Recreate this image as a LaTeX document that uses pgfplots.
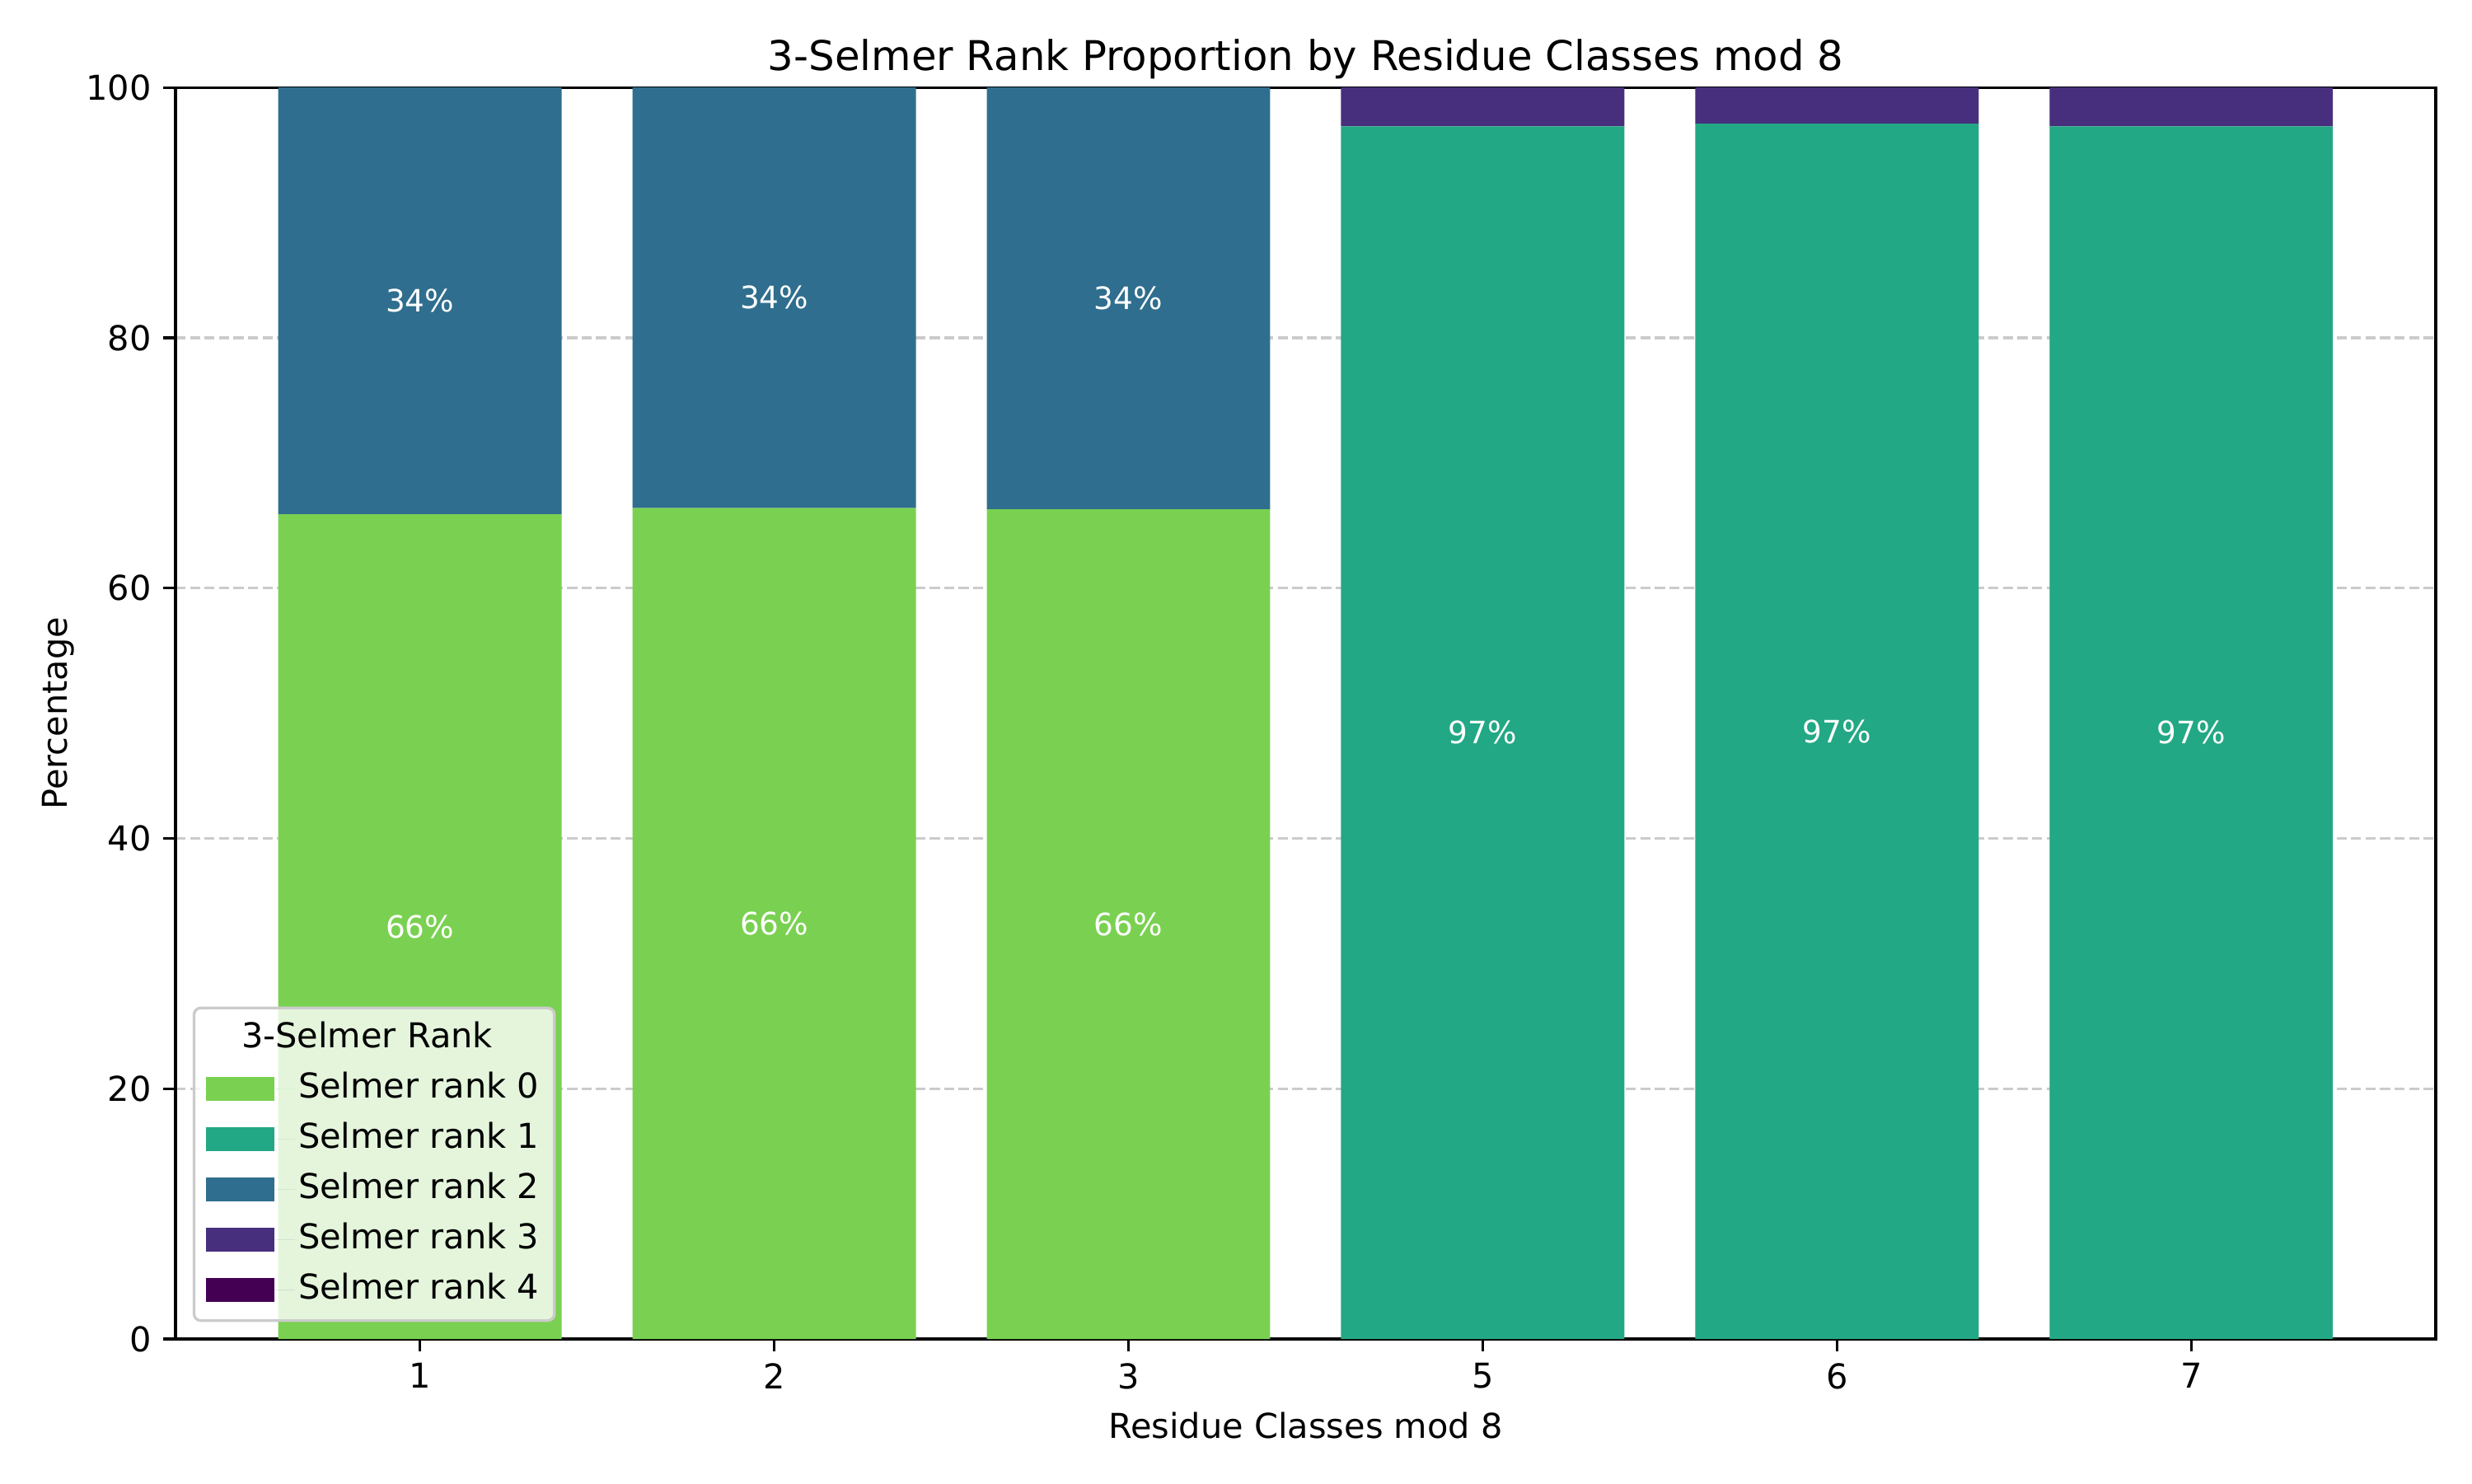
\documentclass[border=0pt]{standalone}
\usepackage{fontspec}
\setmainfont{DejaVu Sans}
\usepackage{pgfplots}
\pgfplotsset{compat=1.18}

\definecolor{rzero}{HTML}{7AD151}
\definecolor{rone}{HTML}{22A884}
\definecolor{rtwo}{HTML}{2F6E8E}
\definecolor{rthree}{HTML}{472F7D}
\definecolor{rfour}{HTML}{440154}
\definecolor{gridgray}{HTML}{CBCBCB}

\pgfplotsset{
  common/.style={
    scale only axis,
    width=9.143in, height=5.063in,
    xmin=-0.69, xmax=5.69,
    ymin=0, ymax=100,
  },
}

\begin{document}
\fontsize{10}{12}\selectfont
\begin{tikzpicture}
\begin{axis}[
  common,
  ybar stacked,
  bar width=0.8,
  title={3-Selmer Rank Proportion by Residue Classes mod 8},
  title style={font=\fontsize{12}{14}\selectfont, anchor=base, yshift=-1pt},
  xlabel={Residue Classes mod 8},
  ylabel={Percentage},
  ylabel style={yshift=-3.5pt},
  xtick={0,1,2,3,4,5},
  xticklabels={1,2,3,5,6,7},
  ytick={0,20,40,60,80,100},
  /pgf/number format/assume math mode=true,
  tick align=outside,
  xtick pos=bottom, ytick pos=left,
  major tick length=3.5pt,
  every tick/.style={black, line width=0.8pt},
  axis line style={line width=0.8pt},
  ymajorgrids,
  major grid style={gridgray, line width=0.8pt, dash pattern=on 2.96pt off 1.28pt},
  tick label style={font=\fontsize{10}{12}\selectfont},
  label style={font=\fontsize{10}{12}\selectfont},
  legend style={
    at={(0,0)}, anchor=south west, xshift=5pt, yshift=5pt,
    fill=white, fill opacity=0.8, text opacity=1, draw opacity=1,
    draw=gridgray, line width=0.8pt, rounded corners=2pt,
    font=\fontsize{10}{12}\selectfont,
    nodes={text height=7.6pt, text depth=2.3pt, inner sep=1pt},
    row sep=2.8pt, inner xsep=3.5pt, inner ysep=3pt,
  },
  legend cell align=left,
  legend image code/.code={
    \fill[#1, fill opacity=1, sharp corners] (0pt,-3.5pt) rectangle (20pt,3.5pt);
    \path (0pt,0pt) -- (26pt,0pt);
  },
]
\addlegendimage{empty legend}
\addlegendentry{\hspace*{-16.6pt}3-Selmer Rank}
\addplot[fill=rzero, draw=none] coordinates {(0,65.9) (1,66.4) (2,66.3) (3,0) (4,0) (5,0)};
\addlegendentry{Selmer rank 0}
\addplot[fill=rone, draw=none] coordinates {(0,0) (1,0) (2,0) (3,96.9) (4,97.1) (5,96.9)};
\addlegendentry{Selmer rank 1}
\addplot[fill=rtwo, draw=none] coordinates {(0,34.1) (1,33.6) (2,33.7) (3,0) (4,0) (5,0)};
\addlegendentry{Selmer rank 2}
\addplot[fill=rthree, draw=none] coordinates {(0,0) (1,0) (2,0) (3,3.1) (4,2.9) (5,3.1)};
\addlegendentry{Selmer rank 3}
\addplot[fill=rfour, draw=none] coordinates {(0,0) (1,0) (2,0) (3,0) (4,0) (5,0)};
\addlegendentry{Selmer rank 4}
\end{axis}
% bar labels, placed at the middle of each segment
\begin{axis}[
  common,
  hide axis,
]
\addplot[only marks, mark=none,
  point meta=explicit,
  nodes near coords={\pgfmathprintnumber[fixed,precision=0,assume math mode=true]{\pgfplotspointmeta}\%},
  nodes near coords style={anchor=center, text=white, inner sep=0pt,
    font=\fontsize{9}{11}\selectfont},
] table[meta=v] {
x y v
0 32.95 66
1 33.20 66
2 33.15 66
0 82.95 34
1 83.20 34
2 83.15 34
3 48.45 97
4 48.55 97
5 48.45 97
};
\end{axis}
\pgfresetboundingbox
\path (-0.71in,-0.583in) rectangle (9.29in,5.417in);
\end{tikzpicture}
\end{document}
